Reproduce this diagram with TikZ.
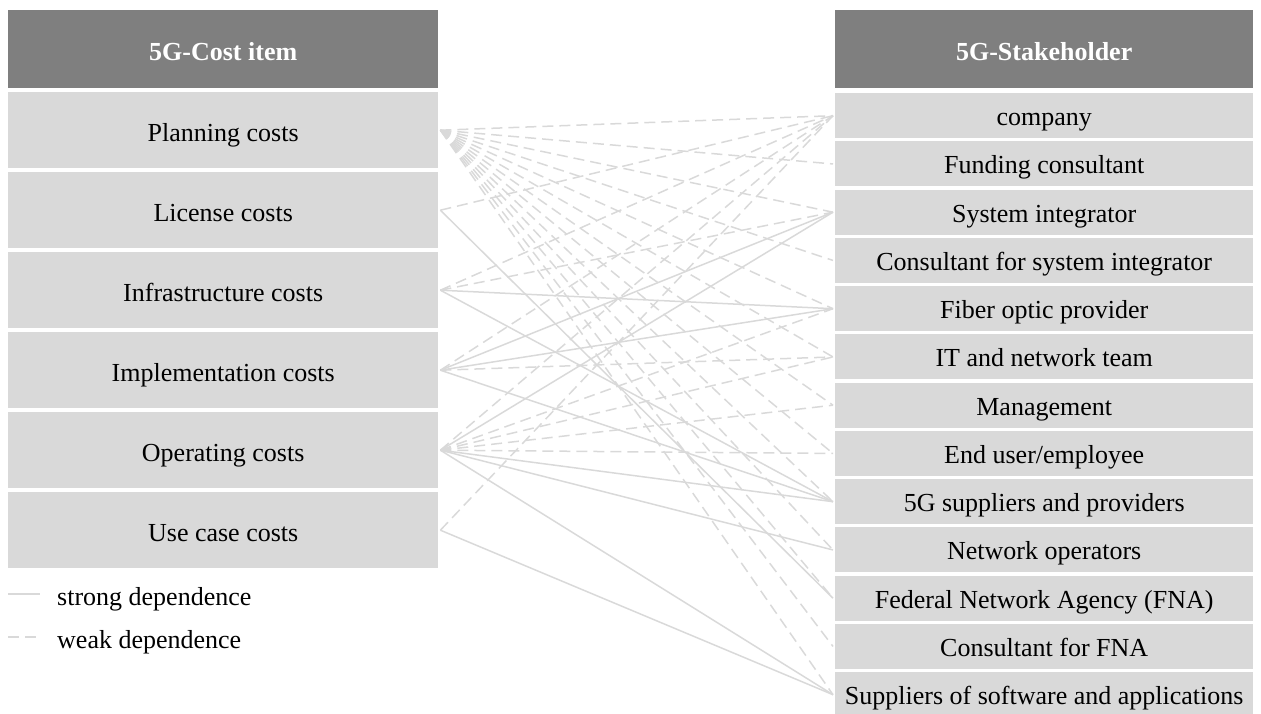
\documentclass[tikz,border=0pt]{standalone}
\usepackage{fontspec}
\setmainfont{Liberation Serif}
\definecolor{hdrgray}{RGB}{127,127,127}
\definecolor{rowgray}{RGB}{217,217,217}
\definecolor{linegray}{RGB}{217,217,217}
\begin{document}
\begin{tikzpicture}[x=1pt,y=-1pt,
  txt/.style={font=\fontsize{26}{30}\selectfont,text height=23pt,text depth=0pt},
  hdr/.style={fill=hdrgray,text=white,font=\fontsize{26}{30}\selectfont\bfseries,text height=23pt,text depth=0pt,inner sep=0pt,anchor=north west,minimum height=78pt},
  lrow/.style={fill=rowgray,txt,inner sep=0pt,anchor=north west,minimum width=430pt,minimum height=76pt},
  rrow/.style={fill=rowgray,txt,text height=20pt,inner sep=0pt,anchor=north west,minimum width=418pt,minimum height=45pt},
  strong/.style={draw=linegray,line width=1.5pt},
  weak/.style={draw=linegray,line width=1.5pt,dash pattern=on 11pt off 6pt}]
\useasboundingbox (0,0) rectangle (1261,714);
\begin{scope}
\clip (0,0) rectangle (1261,714);
% headers
\node[hdr,minimum width=430pt] (hL) at (8,10) {5G-Cost item};
\node[hdr,minimum width=418pt] (hR) at (835,10) {5G-Stakeholder};
% left rows
\node[lrow] (lP) at (8,92) {Planning costs};
\node[lrow] (lL) at (8,172) {License costs};
\node[lrow] (lInf) at (8,252) {Infrastructure costs};
\node[lrow] (lImp) at (8,332) {Implementation costs};
\node[lrow] (lO) at (8,412) {Operating costs};
\node[lrow] (lU) at (8,492) {Use case costs};
% right rows
\node[rrow] (rC) at (835,93) {company};
\node[rrow] (rF) at (835,141.25) {Funding consultant};
\node[rrow] (rSI) at (835,189.5) {System integrator};
\node[rrow] (rCSI) at (835,237.75) {Consultant for system integrator};
\node[rrow] (rFib) at (835,286) {Fiber optic provider};
\node[rrow] (rIT) at (835,334.25) {IT and network team};
\node[rrow] (rM) at (835,382.5) {Management};
\node[rrow] (rE) at (835,430.75) {End user/employee};
\node[rrow] (rG) at (835,479) {5G suppliers and providers};
\node[rrow] (rNO) at (835,527.25) {Network operators};
\node[rrow] (rFNA) at (835,575.5) {Federal Network Agency (FNA)};
\node[rrow] (rCF) at (835,623.75) {Consultant for FNA};
\node[rrow] (rS) at (835,672) {Suppliers of software and applications};
\end{scope}
% connector ends
\foreach \n in {P,L,Inf,Imp,O,U} \coordinate (o\n) at ([xshift=2pt]l\n.east);
\foreach \n in {C,F,SI,CSI,Fib,IT,M,E,G,NO,FNA,CF,S} \coordinate (e\n) at ([xshift=-2pt]r\n.west);
% weak dependences
\foreach \n in {C,F,SI,CSI,Fib,IT,M,E,G,NO,FNA,CF,S} \draw[weak] (oP) -- (e\n);
\draw[weak] (oL) -- (eC);
\draw[weak] (oInf) -- (eC);
\draw[weak] (oInf) -- (eSI);
\draw[weak] (oImp) -- (eC);
\draw[weak] (oImp) -- (eIT);
\draw[weak] (oO) -- (eC);
\draw[weak] (oO) -- (eFib);
\draw[weak] (oO) -- (eIT);
\draw[weak] (oO) -- (eM);
\draw[weak] (oO) -- (eE);
\draw[weak] (oU) -- (eC);
% strong dependences
\draw[strong] (oL) -- (eFNA);
\draw[strong] (oInf) -- (eFib);
\draw[strong] (oInf) -- (eG);
\draw[strong] (oImp) -- (eSI);
\draw[strong] (oImp) -- (eFib);
\draw[strong] (oImp) -- (eG);
\draw[strong] (oO) -- (eSI);
\draw[strong] (oO) -- (eG);
\draw[strong] (oO) -- (eNO);
\draw[strong] (oO) -- (eS);
\draw[strong] (oU) -- (eS);
% legend
\coordinate (sa) at (8,594);
\coordinate (sb) at (40,594);
\coordinate (wa) at (8,637);
\coordinate (wb) at (40,637);
\draw[strong] (sa) -- (sb);
\draw[weak] (wa) -- (wb);
\node[txt,anchor=west,inner sep=0pt] (ls) at (57,594) {strong dependence};
\node[txt,anchor=west,inner sep=0pt] (lw) at (57,637) {weak dependence};
\end{tikzpicture}
\end{document}
